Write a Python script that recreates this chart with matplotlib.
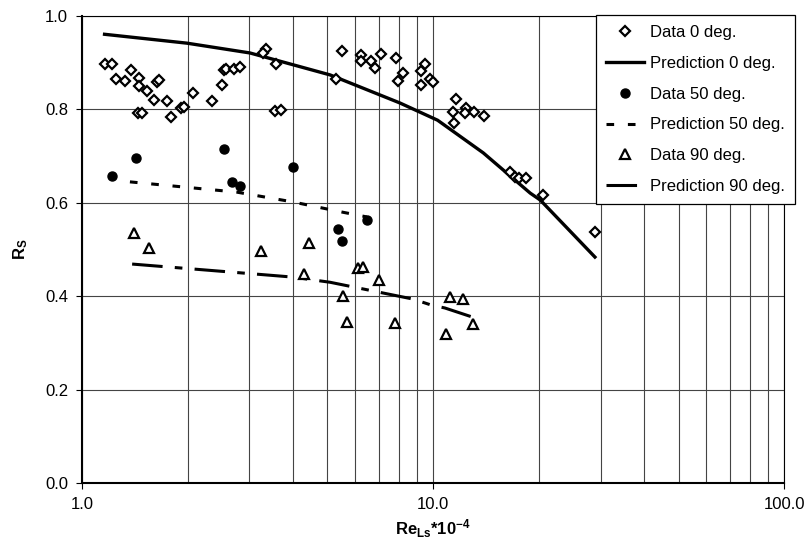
import numpy as np
import matplotlib
matplotlib.use("Agg")
import matplotlib.pyplot as plt
from matplotlib.ticker import FixedLocator, LogLocator, NullFormatter

plt.rcParams['font.family'] = ['Liberation Sans', 'DejaVu Sans']
plt.rcParams['mathtext.fontset'] = 'custom'
plt.rcParams['mathtext.rm'] = 'Liberation Sans'
plt.rcParams['mathtext.bf'] = 'Liberation Sans:bold'

# ---------------- data ----------------
re0 = [1.16, 1.22, 1.25, 1.33, 1.38, 1.45, 1.45, 1.44, 1.53, 1.60, 1.64, 1.66,
       1.75, 1.79, 1.48, 1.92, 1.95, 2.07, 2.35, 2.50, 2.54, 2.58, 2.71, 2.82,
       3.35, 3.27, 3.56, 3.55, 3.70, 5.28, 5.49, 6.25, 6.25, 6.66, 6.85, 7.12,
       7.85, 8.21, 7.93, 9.22, 9.47, 9.22, 9.80, 10.0, 11.6, 11.4, 11.5, 12.4,
       12.3, 13.1, 14.0, 16.6, 17.1, 17.6, 18.4, 20.6, 28.9]
rs0 = [0.897, 0.897, 0.865, 0.861, 0.884, 0.868, 0.850, 0.793, 0.839, 0.821,
       0.859, 0.863, 0.819, 0.784, 0.793, 0.803, 0.805, 0.835, 0.818, 0.852,
       0.885, 0.887, 0.887, 0.891, 0.929, 0.920, 0.898, 0.797, 0.799, 0.865,
       0.925, 0.916, 0.903, 0.903, 0.888, 0.918, 0.910, 0.878, 0.861, 0.882,
       0.897, 0.852, 0.865, 0.859, 0.822, 0.794, 0.770, 0.803, 0.792, 0.794,
       0.786, 0.666, 0.655, 0.653, 0.654, 0.616, 0.537]

pred0_re = [1.16, 1.99, 3.01, 5.09, 8.04, 10.3, 13.9, 18.9, 20.2, 28.9]
pred0_rs = [0.961, 0.942, 0.921, 0.874, 0.814, 0.777, 0.707, 0.621, 0.606, 0.484]

re50 = [1.22, 1.43, 2.54, 2.67, 2.82, 3.99, 6.47, 5.35, 5.50]
rs50 = [0.657, 0.696, 0.715, 0.645, 0.636, 0.677, 0.563, 0.544, 0.518]

pred50_re = [1.37, 2.76, 3.99, 5.53, 6.47]
pred50_rs = [0.645, 0.623, 0.602, 0.580, 0.570]

re90 = [1.41, 1.55, 3.23, 4.43, 4.28, 5.54, 5.68, 6.10, 6.30, 7.00, 7.80,
        11.2, 12.2, 13.0, 10.9]
rs90 = [0.535, 0.503, 0.497, 0.514, 0.448, 0.400, 0.345, 0.460, 0.462, 0.435,
        0.343, 0.398, 0.394, 0.340, 0.319]

pred90_re = [1.39, 3.71, 3.99, 5.09, 8.77, 9.90, 10.8, 13.0]
pred90_rs = [0.469, 0.443, 0.441, 0.430, 0.394, 0.381, 0.375, 0.355]

# ---------------- figure ----------------
fig = plt.figure(figsize=(8.11, 5.54), dpi=100)
ax = fig.add_axes([0.101, 0.128, 0.866, 0.843])

ax.plot(re0, rs0, linestyle='none', marker='D', markersize=5,
        markerfacecolor='white', markeredgecolor='black', markeredgewidth=1.6,
        label='Data 0 deg.', zorder=3)
ax.plot(pred0_re, pred0_rs, color='black', linewidth=2.4,
        label='Prediction 0 deg.', zorder=2)
ax.plot(re50, rs50, linestyle='none', marker='o', markersize=6.5,
        color='black', label='Data 50 deg.', zorder=3)
ax.plot(pred50_re, pred50_rs, color='black', linewidth=2.2,
        dashes=(2.5, 4.5), label='Prediction 50 deg.', zorder=2)
ax.plot(re90, rs90, linestyle='none', marker='^', markersize=6.5,
        markerfacecolor='white', markeredgecolor='black', markeredgewidth=1.6,
        label='Data 90 deg.', zorder=3)
ax.plot(pred90_re, pred90_rs, color='black', linewidth=2.2,
        dashes=(10, 4, 2.5, 4), label='Prediction 90 deg.', zorder=2)

ax.set_xscale('log')
ax.set_xlim(1, 100)
ax.set_ylim(0, 1)
ax.xaxis.set_major_locator(FixedLocator([1, 10, 100]))
ax.xaxis.set_minor_locator(LogLocator(base=10, subs=np.arange(2, 10)))
ax.xaxis.set_minor_formatter(NullFormatter())
ax.set_xticklabels(['1.0', '10.0', '100.0'])
ax.set_yticks(np.arange(0, 1.01, 0.2))
ax.set_yticklabels([f'{v:.1f}' for v in np.arange(0, 1.01, 0.2)])

ax.grid(True, which='major', color='#444444', linewidth=0.8)
ax.grid(True, which='minor', axis='x', color='#444444', linewidth=0.8)
ax.tick_params(axis='both', which='major', direction='out', length=4,
               labelsize=12, colors='black', pad=6)
ax.tick_params(axis='x', which='minor', length=0)
for side in ['left', 'bottom']:
    ax.spines[side].set_linewidth(1.5)
for side in ['top', 'right']:
    ax.spines[side].set_linewidth(0.8)

ax.set_xlabel(r'$\mathbf{Re_{Ls}}$$\mathbf{*10^{-4}}$', fontsize=12, labelpad=4)
ax.set_ylabel(r'$\mathbf{R_S}$', fontsize=12, labelpad=11)

leg = ax.legend(loc='upper right', bbox_to_anchor=(795 / 811, 1 - 15 / 554),
                bbox_transform=fig.transFigure, fontsize=12,
                frameon=True, fancybox=False, edgecolor='black',
                framealpha=1, borderpad=0.6, labelspacing=0.95,
                handlelength=2.3, handletextpad=0.35, borderaxespad=0)
leg.get_frame().set_linewidth(0.9)

fig.savefig('out.png', dpi=100)
